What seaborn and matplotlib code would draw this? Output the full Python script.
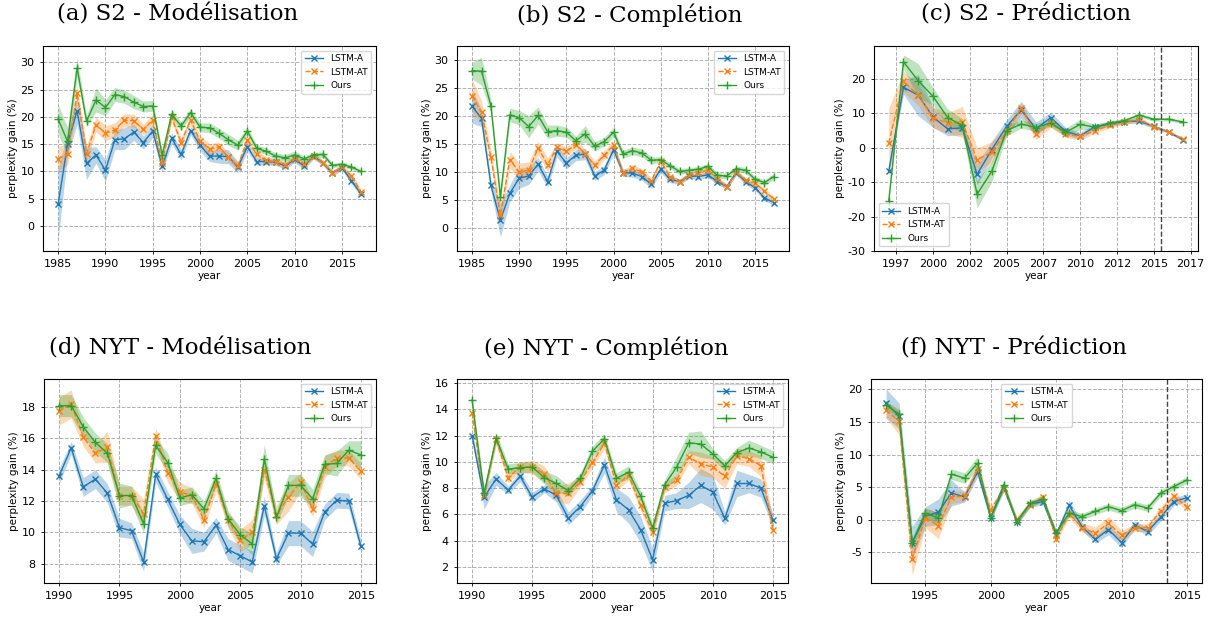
import numpy as np
import pandas as pd
import matplotlib
matplotlib.use("Agg")
import matplotlib.pyplot as plt
import seaborn as sns

# ---------------- data ----------------
years_s2 = list(range(1985, 2018))
years_nyt_mod = list(range(1990, 2016))
years_nyt_pred = list(range(1992, 2016))
steps_s2_pred = list(range(21))
s2_pred_tick_labels = ['1997', '2000', '2002', '2005', '2007', '2010', '2012', '2015', '2017']

# (a) S2 - Modelisation
a_lstm_a = [4.0, 15.0, 21.1, 11.5, 13.0, 10.2, 15.8, 16.0, 17.2, 15.3, 17.4, 10.9, 16.1, 13.1, 17.5, 14.8,
            12.8, 12.8, 12.7, 10.8, 14.5, 11.8, 11.8, 11.7, 11.0, 12.2, 11.0, 12.8, 11.5, 9.7, 10.7, 8.3, 5.9]
a_lstm_a_err = [6.5, 2.0, 2.5, 3.0, 1.5, 2.0, 1.8, 2.0, 1.5, 1.2, 1.2, 1.0, 1.0, 1.0, 0.8, 1.0,
                1.0, 1.3, 1.3, 1.0, 0.8, 0.7, 0.6, 0.6, 0.6, 0.6, 0.6, 0.5, 0.5, 0.5, 0.5, 0.6, 0.5]
a_lstm_at = [12.3, 13.2, 24.3, 13.2, 18.6, 17.0, 17.6, 19.4, 19.3, 17.7, 19.4, 11.6, 19.9, 15.3, 19.4, 15.6,
             14.1, 14.5, 12.6, 11.0, 15.8, 13.1, 12.0, 11.8, 11.2, 12.4, 11.3, 12.8, 11.6, 9.7, 10.8, 9.2, 6.3]
a_lstm_at_err = [2.2, 2.0, 1.5, 1.5, 1.3, 1.4, 1.3, 1.2, 1.2, 1.0, 1.0, 0.8, 0.8, 0.9, 0.8, 1.0,
                 1.0, 0.9, 0.8, 0.7, 0.7, 0.7, 0.7, 0.6, 0.6, 0.6, 0.5, 0.5, 0.5, 0.5, 0.5, 0.5, 0.5]
a_ours = [19.6, 15.5, 29.0, 19.2, 23.1, 21.7, 24.1, 23.7, 22.7, 21.9, 22.0, 13.0, 20.5, 18.3, 20.8, 18.1,
          18.0, 17.0, 15.8, 14.8, 17.4, 14.2, 13.7, 12.8, 12.5, 13.0, 12.3, 13.0, 13.1, 11.1, 11.3, 10.8, 10.0]
a_ours_err = [2.7, 2.5, 1.8, 1.0, 2.2, 1.5, 1.3, 1.2, 1.2, 1.0, 1.0, 0.8, 0.8, 0.8, 0.7, 0.8,
              0.9, 0.9, 1.0, 0.9, 0.7, 0.6, 0.6, 0.6, 0.6, 0.7, 0.5, 0.5, 0.5, 0.4, 0.4, 0.4, 0.4]

# (b) S2 - Completion
b_lstm_a = [21.7, 19.6, 7.6, 1.4, 6.2, 8.9, 9.3, 11.4, 8.3, 13.7, 11.6, 13.0, 13.2, 9.3, 10.3, 14.0,
            9.9, 9.8, 9.2, 7.8, 10.5, 8.7, 8.3, 9.3, 9.2, 9.5, 8.3, 7.4, 9.9, 8.3, 7.2, 5.4, 4.5]
b_lstm_a_err = [3.0, 1.5, 1.0, 3.0, 1.5, 1.8, 1.5, 1.2, 1.0, 1.0, 1.0, 1.0, 1.0, 0.8, 0.8, 0.8,
                0.7, 0.7, 0.7, 0.7, 0.6, 0.6, 0.5, 0.5, 0.5, 0.5, 0.5, 0.5, 0.5, 0.5, 0.5, 0.5, 0.5]
b_lstm_at = [23.6, 20.7, 12.6, 2.3, 12.2, 10.0, 10.3, 14.3, 11.3, 14.4, 13.7, 14.9, 13.3, 11.2, 13.0, 14.8,
             9.8, 10.7, 10.0, 8.4, 11.9, 9.2, 8.2, 9.5, 9.8, 10.3, 8.8, 7.3, 10.0, 8.5, 8.0, 6.6, 5.1]
b_lstm_at_err = [3.0, 2.0, 1.2, 1.5, 1.5, 1.6, 1.5, 1.2, 1.2, 0.8, 0.8, 0.8, 0.8, 0.8, 0.8, 0.8,
                 0.6, 0.6, 0.6, 0.6, 0.6, 0.5, 0.5, 0.5, 0.5, 0.5, 0.5, 0.5, 0.5, 0.5, 0.5, 0.5, 0.5]
b_ours = [28.1, 28.0, 21.8, 5.5, 20.2, 19.7, 18.1, 20.1, 17.2, 17.4, 17.1, 15.6, 16.8, 14.6, 15.4, 17.1,
          13.2, 13.8, 13.4, 12.1, 12.2, 11.1, 10.1, 10.3, 10.5, 11.0, 9.4, 9.3, 10.6, 10.3, 8.7, 8.1, 9.2]
b_ours_err = [1.5, 2.5, 1.2, 1.0, 1.2, 1.3, 2.0, 1.5, 1.2, 1.0, 0.9, 0.8, 1.5, 0.8, 0.8, 0.8,
              0.7, 0.7, 0.7, 0.6, 0.5, 0.5, 0.5, 0.5, 0.5, 0.5, 0.5, 0.5, 0.5, 0.5, 0.5, 0.5, 0.5]

# (c) S2 - Prediction
c_lstm_a = [-6.8, 17.6, 15.3, 9.0, 5.5, 5.8, -7.7, -0.5, 6.2, 11.0, 5.5, 8.8, 4.8, 3.5, 6.1, 6.9,
            7.6, 7.8, 6.2, 4.6, 2.3]
c_lstm_a_err = [1.0, 2.0, 6.0, 3.0, 2.0, 2.0, 3.0, 2.5, 2.0, 2.5, 2.0, 1.5, 1.2, 1.0, 0.8, 0.6,
                0.6, 0.6, 0.5, 0.4, 0.4]
c_lstm_at = [1.4, 19.3, 15.3, 8.8, 7.2, 7.5, -3.5, -1.2, 4.8, 11.5, 3.9, 7.1, 4.0, 3.3, 5.0, 6.5,
             7.4, 8.3, 6.1, 4.7, 2.5]
c_lstm_at_err = [10.0, 3.0, 3.0, 3.0, 3.0, 4.5, 3.5, 3.0, 1.5, 1.5, 1.5, 1.2, 1.0, 1.0, 0.8, 0.7,
                 0.7, 0.7, 0.5, 0.4, 0.4]
c_ours = [-15.5, 25.0, 19.5, 15.0, 8.8, 6.5, -13.5, -6.8, 5.0, 6.9, 5.9, 7.2, 4.5, 6.8, 6.0, 7.2,
          7.9, 9.5, 8.3, 8.3, 7.5]
c_ours_err = [1.0, 2.0, 5.0, 2.5, 2.5, 2.0, 4.0, 3.0, 1.5, 1.2, 1.2, 1.0, 1.2, 1.5, 0.8, 0.7,
              0.6, 0.6, 0.5, 0.5, 0.5]

# (d) NYT - Modelisation
d_lstm_a = [13.6, 15.4, 12.9, 13.4, 12.5, 10.3, 10.1, 8.1, 13.7, 12.1, 10.5, 9.45, 9.4, 10.45, 8.9, 8.5,
            8.1, 11.7, 8.3, 9.95, 9.95, 9.25, 11.3, 12.05, 12.0, 9.1]
d_lstm_a_err = [0.5, 0.4, 0.6, 0.6, 0.6, 0.6, 0.5, 0.6, 0.5, 0.5, 0.6, 0.8, 0.6, 0.5, 0.7, 0.7,
                0.7, 0.6, 0.4, 0.8, 0.8, 0.8, 0.5, 0.5, 0.5, 0.4]
d_lstm_at = [17.75, 18.2, 16.1, 15.05, 15.45, 12.35, 12.35, 11.2, 16.15, 13.8, 12.6, 12.35, 10.8, 13.1, 10.8, 9.5,
             10.0, 14.0, 11.1, 12.25, 13.2, 11.5, 14.2, 14.75, 14.75, 13.9]
d_lstm_at_err = [0.9, 0.9, 0.6, 0.6, 1.0, 0.6, 0.6, 0.9, 0.5, 0.6, 0.6, 0.5, 0.5, 0.5, 0.5, 0.7,
                 0.8, 0.6, 0.6, 0.9, 0.6, 0.5, 0.7, 0.5, 0.5, 0.5]
d_ours = [18.1, 18.1, 16.75, 15.75, 15.05, 12.35, 12.35, 10.55, 15.55, 14.45, 12.2, 12.4, 11.5, 13.45, 10.85, 9.85,
          9.25, 14.7, 10.95, 13.0, 13.0, 12.15, 14.35, 14.4, 15.25, 14.95]
d_ours_err = [0.7, 0.7, 0.6, 0.6, 0.6, 0.8, 0.6, 0.6, 0.5, 0.6, 0.5, 0.5, 0.5, 0.5, 0.5, 0.5,
              0.7, 0.9, 0.4, 0.7, 0.7, 0.6, 0.6, 0.8, 0.6, 0.9]

# (e) NYT - Completion
e_lstm_a = [12.0, 7.3, 8.7, 7.85, 8.9, 7.3, 7.95, 7.45, 5.7, 6.6, 7.8, 9.75, 7.1, 6.35, 4.85, 2.55,
            6.85, 7.05, 7.45, 8.2, 7.7, 5.7, 8.35, 8.35, 8.0, 5.55]
e_lstm_a_err = [0.3, 0.9, 0.5, 0.3, 0.4, 0.4, 0.3, 0.5, 0.5, 0.5, 0.4, 0.6, 0.9, 1.0, 1.0, 0.9,
                0.6, 0.6, 1.0, 1.3, 1.3, 0.5, 1.0, 0.7, 0.7, 0.5]
e_lstm_at = [13.7, 7.5, 11.7, 8.8, 9.6, 9.6, 9.1, 7.6, 7.6, 8.5, 9.95, 11.4, 8.2, 9.0, 6.7, 4.65,
             8.05, 8.6, 10.35, 9.85, 9.6, 8.9, 10.45, 10.25, 9.7, 4.8]
e_lstm_at_err = [0.4, 0.4, 0.4, 0.4, 0.4, 0.5, 0.6, 0.6, 0.8, 0.4, 0.4, 0.4, 0.4, 0.4, 0.4, 0.5,
                 0.4, 0.4, 0.5, 0.9, 0.8, 0.9, 0.6, 0.6, 0.8, 0.8]
e_ours = [14.7, 7.6, 11.8, 9.45, 9.55, 9.6, 8.8, 8.35, 7.8, 8.75, 10.8, 11.75, 8.75, 9.2, 7.4, 4.95,
          8.25, 9.6, 11.45, 11.35, 10.6, 9.7, 10.7, 11.05, 10.75, 10.35]
e_ours_err = [0.4, 0.4, 0.4, 0.4, 0.4, 0.4, 0.5, 0.6, 0.4, 0.4, 0.4, 0.4, 0.4, 0.5, 0.4, 0.4,
              0.4, 0.8, 0.8, 1.0, 0.4, 0.4, 0.4, 0.6, 0.5, 0.5]

# (f) NYT - Prediction
f_lstm_a = [17.9, 15.9, -3.5, 0.5, 1.2, 4.1, 3.5, 7.4, 0.3, 4.9, -0.3, 2.4, 2.8, -2.3, 2.2, -1.1,
            -3.0, -1.5, -3.5, -0.8, -1.8, 0.4, 2.8, 3.4]
f_lstm_a_err = [2.2, 2.0, 2.5, 1.5, 2.0, 2.0, 0.8, 0.8, 0.5, 0.5, 0.5, 0.5, 0.5, 0.6, 0.8, 0.6,
                0.6, 0.8, 0.8, 0.6, 0.6, 0.6, 0.6, 0.6]
f_lstm_at = [16.8, 15.1, -6.0, 0.3, -0.9, 3.5, 3.6, 7.8, 1.5, 4.8, 0.0, 2.3, 3.5, -2.9, 0.9, -1.2,
             -2.1, -0.5, -2.4, -1.2, -1.2, 1.4, 3.6, 2.0]
f_lstm_at_err = [1.2, 2.0, 2.5, 1.5, 2.0, 1.0, 0.8, 0.8, 0.6, 0.5, 0.5, 0.5, 0.5, 0.5, 0.6, 0.7,
                 1.0, 1.0, 0.8, 0.6, 0.6, 0.6, 0.6, 0.6]
f_ours = [17.6, 16.2, -3.5, 1.0, 0.3, 7.0, 6.4, 8.7, 0.3, 5.4, -0.3, 2.5, 3.2, -2.0, 1.0, 0.5,
          1.3, 2.0, 1.4, 2.3, 1.8, 4.1, 5.1, 6.1]
f_ours_err = [0.6, 0.6, 0.8, 0.8, 0.8, 0.8, 0.8, 1.0, 0.5, 0.8, 0.5, 0.5, 0.5, 0.5, 0.5, 0.5,
              0.5, 0.5, 0.5, 0.5, 0.5, 0.5, 0.5, 0.5]

model_names = ['LSTM-A', 'LSTM-AT', 'Ours']
titles = ['(a) S2 - Modélisation', '(b) S2 - Complétion', '(c) S2 - Prédiction',
          '(d) NYT - Modélisation', '(e) NYT - Complétion', '(f) NYT - Prédiction']

# ---------------- style ----------------
plt.rcParams['font.family'] = ['DejaVu Sans']
plt.rcParams['axes.unicode_minus'] = False
plt.rcParams['xtick.labelsize'] = 8
plt.rcParams['ytick.labelsize'] = 8
plt.rcParams['xtick.major.size'] = 2.5
plt.rcParams['ytick.major.size'] = 2.5
plt.rcParams['xtick.major.width'] = 0.6
plt.rcParams['ytick.major.width'] = 0.6
plt.rcParams['axes.linewidth'] = 0.8

colors = ['#1f77b4', '#ff7f0e', '#2ca02c']
markers = ['x', 'x', '+']
linestyles = ['-', '--', '-']

fig = plt.figure(figsize=(12.12, 6.2), dpi=100)

W, H = 1212.0, 620.0
def frac(l, t, r, b):
    return [l / W, 1 - b / H, (r - l) / W, (b - t) / H]

panels = [
    dict(rect=frac(43, 46, 376, 251), x=years_s2,
         ys=[a_lstm_a, a_lstm_at, a_ours], es=[a_lstm_a_err, a_lstm_at_err, a_ours_err],
         ylim=(-4.6, 33.0), yticks=[0, 5, 10, 15, 20, 25, 30], xticks=[1985, 1990, 1995, 2000, 2005, 2010, 2015],
         loc='upper right', vline=None),
    dict(rect=frac(457, 46, 789, 251), x=years_s2,
         ys=[b_lstm_a, b_lstm_at, b_ours], es=[b_lstm_a_err, b_lstm_at_err, b_ours_err],
         ylim=(-4.1, 32.5), yticks=[0, 5, 10, 15, 20, 25, 30], xticks=[1985, 1990, 1995, 2000, 2005, 2010, 2015],
         loc='upper right', vline=None),
    dict(rect=frac(874, 46, 1198, 251), x=steps_s2_pred,
         ys=[c_lstm_a, c_lstm_at, c_ours], es=[c_lstm_a_err, c_lstm_at_err, c_ours_err],
         ylim=(-30, 29.6), yticks=[-30, -20, -10, 0, 10, 20], xticks=None,
         loc='lower left', vline=18.5),
    dict(rect=frac(44, 379, 376, 583), x=years_nyt_mod,
         ys=[d_lstm_a, d_lstm_at, d_ours], es=[d_lstm_a_err, d_lstm_at_err, d_ours_err],
         ylim=(6.76, 19.8), yticks=[8, 10, 12, 14, 16, 18], xticks=[1990, 1995, 2000, 2005, 2010, 2015],
         loc='upper right', vline=None),
    dict(rect=frac(457, 379, 788, 583), x=years_nyt_mod,
         ys=[e_lstm_a, e_lstm_at, e_ours], es=[e_lstm_a_err, e_lstm_at_err, e_ours_err],
         ylim=(0.78, 16.3), yticks=[2, 4, 6, 8, 10, 12, 14, 16], xticks=[1990, 1995, 2000, 2005, 2010, 2015],
         loc='upper right', vline=None),
    dict(rect=frac(871, 379, 1202, 583), x=years_nyt_pred,
         ys=[f_lstm_a, f_lstm_at, f_ours], es=[f_lstm_a_err, f_lstm_at_err, f_ours_err],
         ylim=(-9.7, 21.6), yticks=[-5, 0, 5, 10, 15, 20], xticks=[1995, 2000, 2005, 2010, 2015],
         loc='upper center', vline=2013.5),
]

for p in panels:
    ax = fig.add_axes(p['rect'])
    x = np.array(p['x'], dtype=float)
    for k in range(3):
        y = np.array(p['ys'][k])
        e = np.array(p['es'][k])
        ax.fill_between(x, y - e, y + e, color=colors[k], alpha=0.3, linewidth=0)
        df = pd.DataFrame({'x': x, 'y': y})
        sns.lineplot(data=df, x='x', y='y', ax=ax, color=colors[k], linestyle=linestyles[k],
                     marker=markers[k], markersize=5 if k < 2 else 6, markeredgewidth=1.0,
                     markeredgecolor=colors[k], linewidth=1.0, label=model_names[k])
    ax.grid(True, linestyle='--', color='#b0b0b0', linewidth=0.7)
    ax.set_axisbelow(True)
    ax.set_ylim(*p['ylim'])
    ax.set_yticks(p['yticks'])
    if p['xticks'] is not None:
        ax.set_xticks(p['xticks'])
        ax.set_xticklabels([str(t) for t in p['xticks']])
    else:
        pos = [0.5 + 2.5 * i for i in range(len(s2_pred_tick_labels))]
        ax.set_xticks(pos)
        ax.set_xticklabels(s2_pred_tick_labels)
    ax.margins(x=0.05)
    if p['vline'] is not None:
        ax.axvline(p['vline'], color='#444444', linestyle='--', linewidth=1.0)
    ax.set_xlabel('year', fontsize=7.5, labelpad=1)
    ax.set_ylabel('perplexity gain (%)', fontsize=7.5, labelpad=2)
    ax.legend(loc=p['loc'], fontsize=6.5, framealpha=0.8, borderpad=0.4, handlelength=2.0)

title_pos = [(178, 15), (630, 15), (1026, 15), (180, 348), (606, 348), (1014, 348)]
for t, (cx, cy) in zip(titles, title_pos):
    fig.text(cx / W, 1 - cy / H, t, ha='center', va='center', fontsize=16.5, family='DejaVu Serif')

fig.savefig('out.png', dpi=100)
